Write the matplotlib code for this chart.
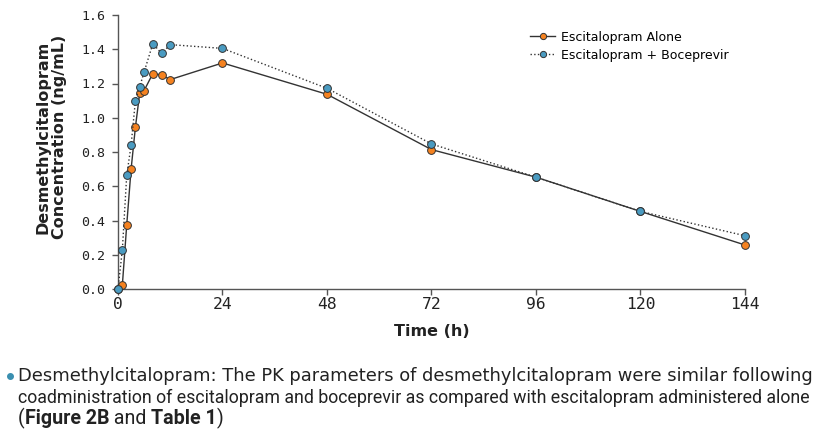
from matplotlib import pyplot as plt
from matplotlib.lines import Line2D
import numpy as np

# sampling times (h)
time_alone = [0, 1, 2, 3, 4, 5, 6, 8, 10, 12, 24, 48, 72, 96, 120, 144]
conc_alone = [0.0, 0.023, 0.373, 0.698, 0.945, 1.147, 1.159, 1.258, 1.250, 1.223,
              1.320, 1.137, 0.814, 0.653, 0.453, 0.257]

time_boc = [0, 1, 2, 3, 4, 5, 6, 8, 10, 12, 24, 48, 72, 96, 120, 144]
conc_boc = [0.0, 0.229, 0.663, 0.838, 1.100, 1.182, 1.267, 1.433, 1.376, 1.427,
            1.405, 1.172, 0.847, 0.653, 0.453, 0.311]

x_ticks = [0, 24, 48, 72, 96, 120, 144]
y_ticks = [0.0, 0.2, 0.4, 0.6, 0.8, 1.0, 1.2, 1.4, 1.6]

orange = '#F58220'
blue = '#4A9BC1'
edge = '#333333'

W, H = 836, 442
fig = plt.figure(figsize=(W/100, H/100), dpi=100)
ax = fig.add_axes([118/W, 1-289/H, (745-118)/W, (289-15)/H])

ax.plot(time_alone, conc_alone, '-', color='#333333', lw=1.0,
        marker='o', ms=5.6, mfc=orange, mec=edge, mew=0.7,
        label='Escitalopram Alone', zorder=3)
ax.plot(time_boc, conc_boc, ':', color='#333333', lw=1.0,
        marker='o', ms=5.6, mfc=blue, mec=edge, mew=0.7,
        label='Escitalopram + Boceprevir', zorder=4)

ax.set_xlim(0, 144)
ax.set_ylim(0, 1.6)
ax.set_xticks(x_ticks)
ax.set_yticks(y_ticks)
ax.set_yticklabels(['%.1f' % v for v in y_ticks], family='DejaVu Sans Mono',
                   fontsize=9.5)
ax.set_xticklabels([str(v) for v in x_ticks], family='DejaVu Sans Mono',
                   fontsize=11.8)
for side in ['top', 'right']:
    ax.spines[side].set_visible(False)
for side in ['left', 'bottom']:
    ax.spines[side].set_color('#555555')
    ax.spines[side].set_linewidth(1.0)
ax.tick_params(direction='out', length=4, width=1, colors='#555555',
               labelcolor='#222222')
ax.tick_params(axis='x', pad=2)
ax.tick_params(axis='y', pad=5)
ax.set_xlabel('Time (h)', fontsize=11.5, fontweight='bold', color='#222222')
ax.xaxis.set_label_coords(0.5, -(336-289)/274, transform=ax.transAxes)
ax.xaxis.label.set_va('baseline')
ax.set_ylabel('Desmethylcitalopram\nConcentration (ng/mL)', fontsize=11.5,
              fontweight='bold', linespacing=1.15, color='#222222')
ax.yaxis.set_label_coords((67-118)/627, (289-137)/274)

for ln in ax.lines:
    ln.set_clip_on(False)

ax.legend(loc='upper left', bbox_to_anchor=((530-118)/627, 1-(30.5-15)/274),
          frameon=False, fontsize=9, handlelength=2.0, handletextpad=0.45,
          labelspacing=0.42, borderpad=0, borderaxespad=0, markerscale=0.8)

# caption below the chart
fig.add_artist(Line2D([9.5/W], [1-375.5/H], transform=fig.transFigure,
                      marker='o', ms=4, color='#3A8FB0', lw=0))
renderer = fig.canvas.get_renderer()


def fit_line(pieces, y, x_left, x_right, family):
    # lay out pieces on one baseline, scaled to span x_left..x_right
    fs = 12
    texts = []
    for s, w in pieces:
        texts.append(fig.text(0, 0, s, fontsize=fs, fontweight=w, family=family,
                              color='#222222', va='baseline'))
    total = sum(t.get_window_extent(renderer).width for t in texts)
    fs = fs*(x_right-x_left)/total
    x0 = x_left
    for t in texts:
        t.set_fontsize(fs)
        t.set_position((x0/W, 1-y/H))
        x0 += t.get_window_extent(renderer).width


fit_line([('Desmethylcitalopram: The PK parameters of desmethylcitalopram were similar following', 'normal')],
         381, 18, 808, 'DejaVu Sans')
fit_line([('coadministration of escitalopram and boceprevir as compared with escitalopram administered alone', 'normal')],
         403, 18, 808, 'Roboto')
fit_line([('(', 'normal'), ('Figure 2B', 'bold'), (' and ', 'normal'),
          ('Table 1', 'bold'), (')', 'normal')],
         424, 18, 224, 'Roboto')

fig.savefig('out.png', dpi=100)
